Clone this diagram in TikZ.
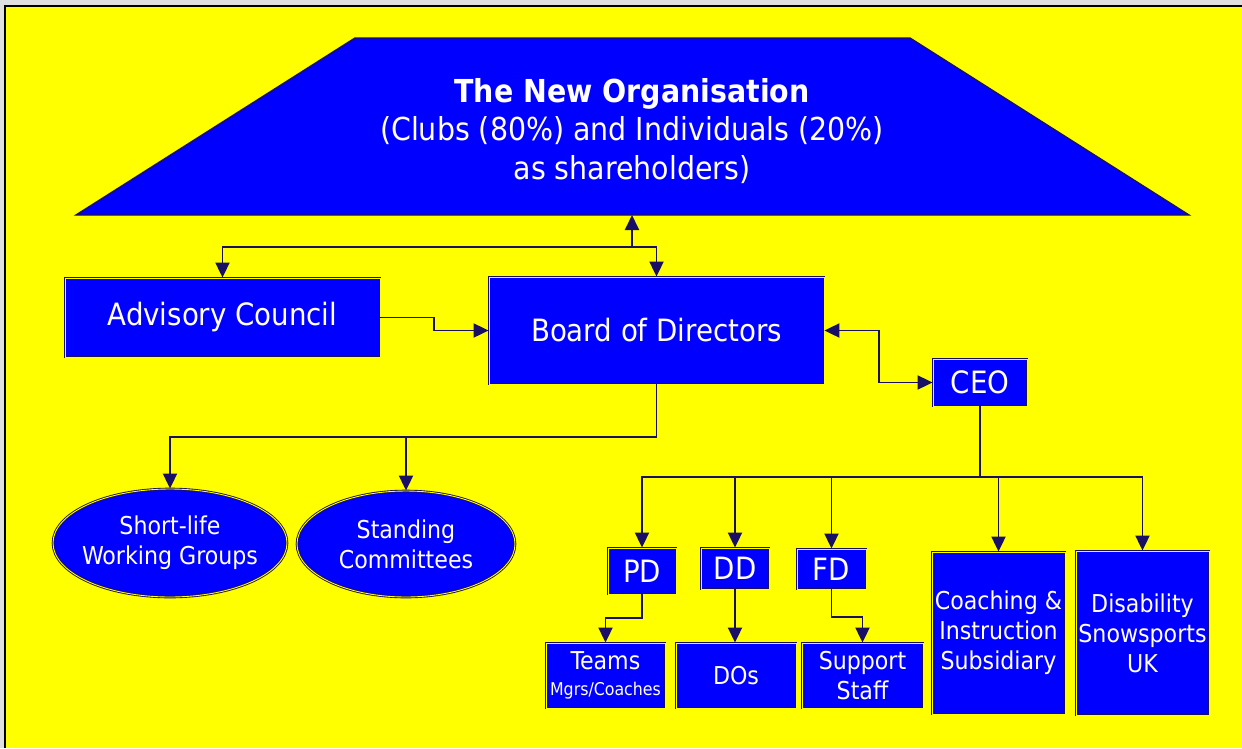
\documentclass[tikz,border=0pt]{standalone}
\usepackage{fontspec}
\setmainfont{DejaVu Sans Condensed}
\usetikzlibrary{arrows.meta, positioning, shapes.geometric, calc}
\definecolor{orgblue}{RGB}{0,0,255}
\definecolor{orgyellow}{RGB}{255,255,0}
\definecolor{orgline}{RGB}{25,15,100}

\begin{document}
\begin{tikzpicture}[x=0.02cm, y=-0.02cm,
    unit/.style={draw=orgline, line width=0.5pt, double=orgyellow, double distance=0.5pt,
                 fill=orgblue, text=white, inner sep=0pt, align=center},
    big/.style={unit, font=\fontsize{17.5}{21}\selectfont},
    mid/.style={unit, font=\fontsize{14}{17}\selectfont},
    oval/.style={mid, ellipse, inner xsep=-0.15cm},
    link/.style={draw=orgline, line width=1.1pt},
    tip/.style={link, -{Triangle[length=0.3cm, width=0.28cm]}},
    tips/.style={link, {Triangle[length=0.3cm, width=0.28cm]}-{Triangle[length=0.3cm, width=0.28cm]}}]
    \useasboundingbox (0,0) rectangle (1242,748);

    % Page and frame
    \fill[gray!25] (0,0) rectangle (1242,748);
    \fill[orgyellow] (5,6) rectangle (1242,748);
    \draw[black, line width=1.2pt] (5,748) -- (5,6) -- (1242,6);

    % The New Organisation
    \draw[draw=orgline, line width=0.8pt, fill=orgblue] (355,38) -- (910,38) -- (1189,215) -- (76,215) -- cycle;
    \node[text=white, align=center, font=\fontsize{18}{22}\selectfont] (org) at (632,131)
        {\textbf{The New Organisation}\\(Clubs (80\%) and Individuals (20\%)\\as shareholders)};
    \coordinate (orgbase) at (632,215);

    % Board level
    \node[big, minimum width=6.3cm, minimum height=1.58cm] (adv) at (222.5,317.5) {Advisory Council};
    \node[big, minimum width=6.7cm, minimum height=2.14cm] (board) at (656.5,330.5) {Board of Directors};
    \node[big, minimum width=1.88cm, minimum height=0.94cm] (ceo) at (980,382.5) {CEO};

    % Groups under the board
    \node[oval, minimum width=4.68cm, minimum height=2.16cm] (slwg) at (170,543) {Short-life\\Working Groups};
    \node[oval, minimum width=4.36cm, minimum height=2.12cm] (stc) at (406,544) {Standing\\Committees};

    % Directors
    \node[big, minimum width=1.36cm, minimum height=0.92cm] (pd) at (642,571) {PD};
    \node[big, minimum width=1.36cm, minimum height=0.82cm] (dd) at (735,568.5) {DD};
    \node[big, minimum width=1.38cm, minimum height=0.8cm] (fd) at (831.5,569) {FD};

    % Staff and subsidiaries
    \node[mid, minimum width=2.38cm, minimum height=1.3cm] (teams) at (605.5,675.5)
        {Teams\\[-2pt]{\fontsize{10}{12}\selectfont Mgrs/Coaches}};
    \node[mid, minimum width=2.4cm, minimum height=1.3cm] (dos) at (736,675.5) {DOs};
    \node[mid, minimum width=2.42cm, minimum height=1.3cm] (staff) at (862.5,675.5) {Support\\Staff};
    \node[mid, minimum width=2.66cm, minimum height=3.24cm] (coach) at (998.5,633) {Coaching \&\\Instruction\\Subsidiary};
    \node[mid, minimum width=2.66cm, minimum height=3.28cm] (dsuk) at (1142.5,633) {Disability\\Snowsports\\UK};

    % Connectors
    \coordinate (j1) at (632,247);
    \draw[tips] (adv.north) |- (j1) -| (board.north);
    \draw[tip] (j1) -- (orgbase);
    \draw[tip] (adv.east) -- +(54,0) |- (board.west);
    \draw[tips] (board.east) -- +(55,0) |- (ceo.west);

    \coordinate (j2) at ($(board.south)+(0,53)$);
    \draw[tip] (board.south) -- (j2) -| (slwg.north);
    \draw[tip] (j2) -| (stc.north);

    \coordinate (j3) at ($(ceo.south)+(0,71)$);
    \draw[link] (ceo.south) -- (j3);
    \foreach \n in {pd,dd,fd,coach,dsuk}
        \draw[tip] (j3) -| (\n.north);

    \draw[tip] (pd.south) -- +(0,24) -| (teams.north);
    \draw[tip] (dd.south) -- (dd.south |- dos.north);
    \draw[tip] (fd.south) -- +(0,28) -| (staff.north);
\end{tikzpicture}
\end{document}
